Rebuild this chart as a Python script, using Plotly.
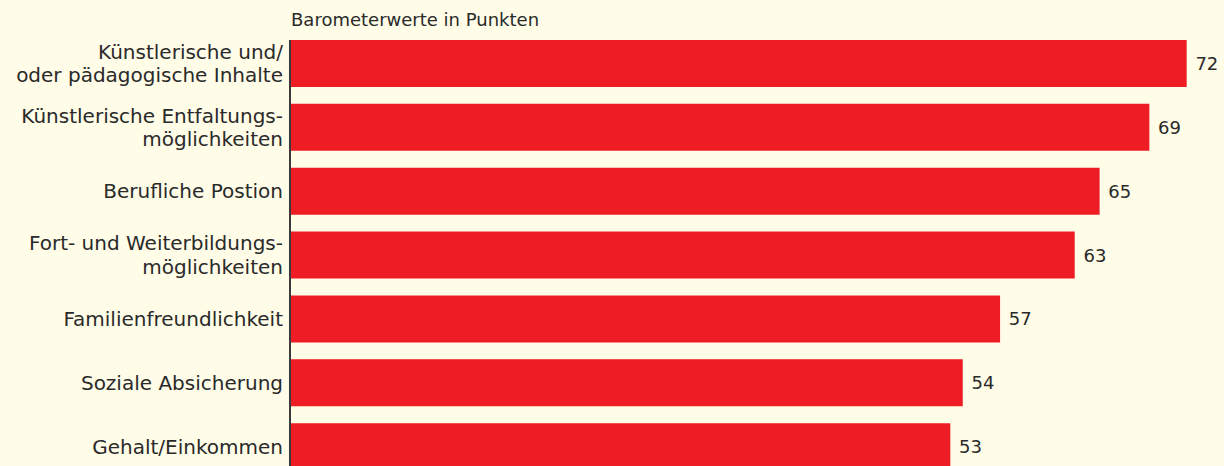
import plotly.graph_objects as go

categories = [
    "Künstlerische und/<br>oder pädagogische Inhalte",
    "Künstlerische Entfaltungs-<br>möglichkeiten",
    "Berufliche Postion",
    "Fort- und Weiterbildungs-<br>möglichkeiten",
    "Familienfreundlichkeit",
    "Soziale Absicherung",
    "Gehalt/Einkommen",
]
values = [72, 69, 65, 63, 57, 54, 53]
title_text = "Barometerwerte in Punkten"

BG = "#fffce8"
RED = "#ee1c25"
TXT = "#2a2a2a"
FONT = "DejaVu Sans, Verdana, sans-serif"

positions = list(range(len(categories)))

# leading for multi-line category labels: one tick per line
LINE_STEP = 0.37
tickvals, ticktext = [], []
for pos, label in zip(positions, categories):
    lines = label.split("<br>")
    n = len(lines)
    for k, line in enumerate(lines):
        tickvals.append(pos + (k - (n - 1) / 2) * LINE_STEP)
        ticktext.append(line)

fig = go.Figure(
    go.Bar(
        x=values,
        y=positions,
        orientation="h",
        marker=dict(color=RED, line=dict(width=0)),
        width=0.736,
        text=values,
        texttemplate=" %{x}",
        textposition="outside",
        textfont=dict(family=FONT, size=18, color=TXT),
        cliponaxis=False,
        hoverinfo="skip",
    )
)

fig.update_layout(
    width=1224,
    height=466,
    paper_bgcolor=BG,
    plot_bgcolor=BG,
    margin=dict(l=291, r=0, t=40, b=0),
    showlegend=False,
    font=dict(family=FONT, color=TXT),
    xaxis=dict(range=[0, 75], visible=False, fixedrange=True),
    yaxis=dict(
        range=[6.302, -0.368],
        tickmode="array",
        tickvals=tickvals,
        ticktext=ticktext,
        tickfont=dict(family=FONT, size=20, color=TXT),
        showline=True,
        linecolor="#3a3a3a",
        linewidth=2,
        showgrid=False,
        zeroline=False,
        ticks="",
        ticklabelstandoff=2,
        fixedrange=True,
    ),
    annotations=[
        dict(
            text=title_text,
            xref="paper", yref="paper",
            x=0, y=1,
            xanchor="left", yanchor="bottom",
            xshift=-2,
            yshift=8,
            showarrow=False,
            font=dict(family=FONT, size=18, color=TXT),
        )
    ],
)

fig.write_html(
    "out.html",
    config={"displayModeBar": False},
    post_script="document.body.style.margin='0';document.body.style.background='" + BG + "';",
)
